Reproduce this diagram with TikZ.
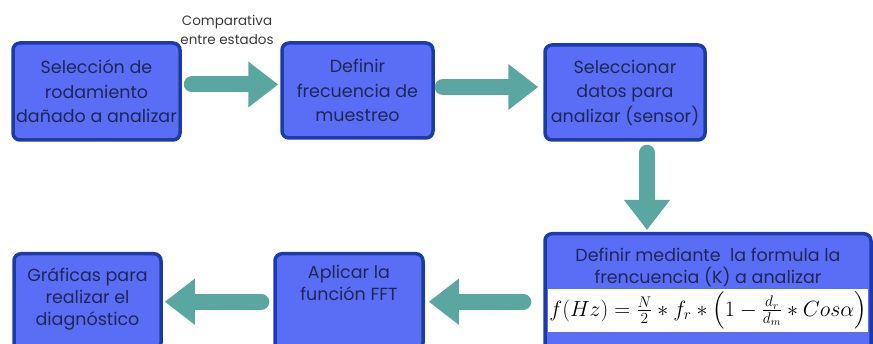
\RequirePackage{fix-cm}
\documentclass[tikz,border=0pt]{standalone}
\usepackage{amsmath}
\usepackage[no-math]{fontspec}
\setmainfont{Poppins}
\usetikzlibrary{arrows.meta,positioning}
\definecolor{FBlue}{HTML}{5A6EF5}
\definecolor{FBorder}{HTML}{1C3BAA}
\definecolor{FText}{HTML}{1D2757}
\definecolor{FTeal}{HTML}{5AA6A0}
\definecolor{FGray}{HTML}{3A3A3A}
\tikzset{
  fcBox/.style={
    draw=FBorder,
    fill=FBlue,
    line width=3.5pt,
    rounded corners=7pt,
    text=FText,
    align=center,
    inner sep=0pt,
    font=\fontsize{17.5pt}{24.5pt}\selectfont
  },
  fcLow/.style={
    fcBox,
    inner xsep=3pt,
    font=\fontsize{17.5pt}{22pt}\selectfont
  },
  fcNote/.style={
    text=FGray,
    align=center,
    font=\fontsize{13.5pt}{19pt}\selectfont
  },
  fcFormula/.style={
    fill=white,
    inner sep=0pt,
    font=\fontsize{22pt}{25pt}\selectfont
  },
  fcArrow/.style={
    line width=16pt,
    color=FTeal,
    line cap=round,
    -{Triangle[length=30pt,width=44pt]}
  }
}

\begin{document}
\begin{tikzpicture}[x=1pt,y=1pt]
  \useasboundingbox (0,0) rectangle (873,343);
  % fila superior
  \node (sel) [fcBox, minimum width=167pt, minimum height=97pt] at (96.5,251.5)
    {Selección de\\rodamiento\\dañado a analizar};
  \node (dfr) [fcBox, minimum width=151pt, minimum height=95pt] at (357.5,252.5)
    {Definir\\frecuencia de\\muestreo};
  \node (dat) [fcBox, minimum width=160pt, minimum height=95pt] at (625,250.5)
    {Seleccionar\\datos para\\analizar (sensor)};
  \node (cmp) [fcNote] at (227,313) {Comparativa\\entre estados};

  % fila inferior
  \node (frm) [fcBox, inner xsep=3pt, inner ysep=14.5pt, anchor=north, font=\fontsize{17.5pt}{22pt}\selectfont] at (708,111)
    {\parbox[c][107pt][t]{320pt}{\centering Definir mediante\ \ la formula la\\frencuencia (K) a analizar}};
  \node (fml) [fcFormula, minimum width=320pt, minimum height=43pt] at (708,32.5)
    {$f(Hz)=\frac{N}{2}*f_r*\Bigl(1-\frac{d_r}{d_m}*Cos\alpha\Bigr)$};
  \node (apl) [fcLow, inner ysep=11pt, anchor=north] at (349,91)
    {\parbox[c][74pt][t]{142pt}{\centering Aplicar la\\función FFT}};
  \node (gra) [fcLow, inner ysep=14.5pt, anchor=north] at (87.5,91)
    {\parbox[c][67pt][t]{141pt}{\centering Gráficas para\\realizar el\\diagnóstico}};

  \draw [fcArrow] ([xshift=10pt,yshift=7pt]sel.east) -- ([xshift=-2pt,yshift=7pt]sel.east -| dfr.west);
  \draw [fcArrow] ([xshift=8pt,yshift=3.5pt]dfr.east) -- ([xshift=-5pt,yshift=3.5pt]dfr.east -| dat.west);
  \draw [fcArrow] ([xshift=22pt,yshift=-11pt]dat.south) -- ([xshift=22pt,yshift=2pt]dat.south |- frm.north);
  \draw [fcArrow] ([xshift=-20pt]frm.west) -- ([xshift=4pt]apl.east);
  \draw [fcArrow] ([xshift=-12pt]apl.west) -- ([xshift=2pt]gra.east);
\end{tikzpicture}
\end{document}
